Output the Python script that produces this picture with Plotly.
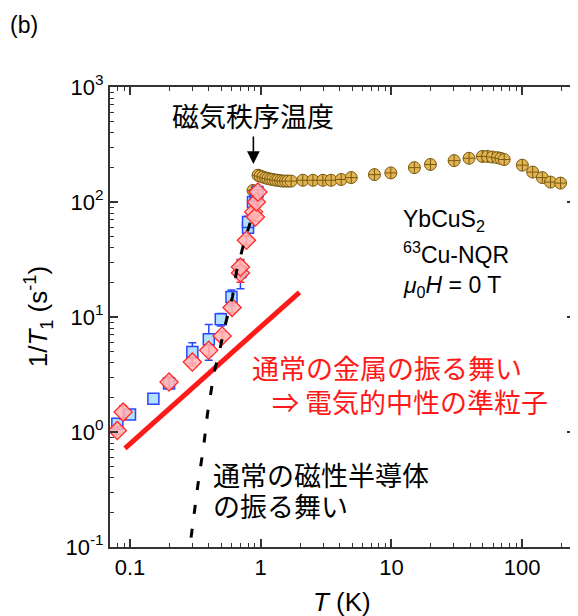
import plotly.graph_objects as go

# ---------------- data ----------------
gold_T = [0.873, 0.954, 0.99, 1.04, 1.09, 1.137, 1.19, 1.24, 1.30, 1.355, 1.42, 1.48, 1.55, 1.62, 1.71,
          2.10, 2.51, 2.99, 3.46, 4.13, 4.93, 7.42, 9.9, 15.0, 19.9, 30.2, 39.3, 49.7, 54.3,
          59.3, 64.9, 68.9, 73.0, 100.5, 120.5, 143, 165, 197]
gold_y = [126, 171, 168, 165, 162, 160, 158, 157, 155, 154.5, 153, 152, 152, 152, 152,
          154.5, 154.5, 154.5, 154.5, 157, 163, 173, 179, 199, 212, 229, 240, 249, 249,
          246, 243, 239, 234, 209, 182, 163, 149, 146]

blue_T = [0.080, 0.100, 0.151, 0.199, 0.300, 0.401, 0.495, 0.598, 0.700, 0.800, 0.800, 0.873, 0.916, 0.944]
blue_y = [1.18, 1.42, 1.95, 2.64, 4.96, 6.4, 9.55, 14.9, 24.6, 59.8, 67, 100, 114, 122]
blue_err = [0.12, 0.1, 0.1, 0.25, 1.0, 2.2, 1.2, 2.3, 7, 10, 8, 8, 8, 8]

red_T = [0.080, 0.0886, 0.199, 0.300, 0.400, 0.507, 0.604, 0.700, 0.700, 0.778, 0.884, 0.911, 0.927, 0.953]
red_y = [1.03, 1.49, 2.72, 4.06, 5.13, 6.84, 12.1, 24.1, 27.2, 46.5, 82, 74, 100, 122]
red_err = [0.08, 0.2, 0.3, 0.3, 0.5, 0.6, 1.2, 4, 4, 4, 6, 6, 6, 6]

# activated (semiconductor-like) guide
dash_T = [0.275, 0.287, 0.33, 0.367, 0.392, 0.44, 0.486, 0.522, 0.608, 0.652, 0.742, 0.864]
dash_y = [0.075, 0.1, 0.34, 0.77, 1.45, 3.3, 5.13, 7.65, 14.9, 24.6, 43.3, 76.5]

# Korringa (metal-like) guide
korr_T = [0.0915, 1.98]
korr_y = [0.72, 16.4]

x_tickvals = [0.1, 1, 10, 100]
x_ticktext = ["0.1", "1", "10", "100"]
y_tickvals = [0.1, 1, 10, 100, 1000]
y_ticktext = ["10<sup>-1</sup>", "10<sup>0</sup>", "10<sup>1</sup>", "10<sup>2</sup>", "10<sup>3</sup>"]

# ---------------- figure ----------------
# the page body adds an 8px offset, so the figure is drawn 8px smaller / shifted
OFF = 8
W, H = 578 - OFF, 616 - OFF
PL, PR, PT, PB = 110, 577, 87, 547          # plot box in screenshot pixels
L, R, T, B = PL - OFF, (W + OFF) - PR, PT - OFF, (H + OFF) - PB
PW, PH = PR - PL, PB - PT

def pp(x, y):
    return dict(x=(x - PL) / PW, y=(PB - y) / PH, xref="paper", yref="paper")

FONT = "Arial, Liberation Sans, sans-serif"
CJK = "Noto Sans CJK JP, sans-serif"

fig = go.Figure()

fig.add_trace(go.Scatter(
    x=gold_T, y=gold_y, mode="markers",
    marker=dict(symbol="circle-cross", size=12, color="#E2B452",
                line=dict(color="#7A5A12", width=1)),
    showlegend=False))

fig.add_trace(go.Scatter(
    x=blue_T, y=blue_y, mode="markers",
    error_y=dict(type="data", array=blue_err, color="#2A45FF", thickness=1.5, width=4),
    marker=dict(symbol="square", size=11, color="#B2E2FF",
                line=dict(color="#2A45FF", width=1.5)),
    showlegend=False))

fig.add_trace(go.Scatter(
    x=red_T, y=red_y, mode="markers",
    error_y=dict(type="data", array=red_err, color="#FF2A2A", thickness=1.5, width=4),
    marker=dict(symbol="diamond", size=14, color="rgba(255,180,180,0.85)",
                line=dict(color="#FF2A2A", width=1.3)),
    showlegend=False))

fig.add_trace(go.Scatter(
    x=korr_T, y=korr_y, mode="lines",
    line=dict(color="#FF1A1A", width=5), showlegend=False))

fig.add_trace(go.Scatter(
    x=dash_T, y=dash_y, mode="lines",
    line=dict(color="black", width=3, dash="9px,15px"), showlegend=False))

def minor(decs):
    out = []
    for d in decs:
        for m in range(2, 10):
            out.append(m * 10 ** d)
    return out

axis_common = dict(
    type="log", showline=True, linecolor="#333333", linewidth=2, mirror="ticks",
    ticks="inside", ticklen=8, tickwidth=1.5, tickcolor="#333333",
    showgrid=False, zeroline=False,
    tickfont=dict(family=FONT, size=22, color="black"),
)

fig.update_xaxes(**axis_common, range=[-1.153, 2.405],
                 tickvals=x_tickvals, ticktext=x_ticktext,
                 minor=dict(ticks="inside", ticklen=4, tickwidth=1.2, tickcolor="#333333",
                            tickvals=minor([-2, -1, 0, 1, 2]), showgrid=False))
fig.update_yaxes(**axis_common, range=[-1, 3],
                 tickvals=y_tickvals, ticktext=y_ticktext,
                 minor=dict(ticks="inside", ticklen=4, tickwidth=1.2, tickcolor="#333333",
                            tickvals=minor([-1, 0, 1, 2]), showgrid=False))

ann = []
ann.append(dict(**pp(8, 25), text="(b)", showarrow=False, xanchor="left", yanchor="middle",
                font=dict(family=FONT, size=23, color="black")))
ann.append(dict(**pp(38, 317), text="1/<i>T</i><sub>1</sub> (s<sup>-1</sup>)", textangle=-90,
                showarrow=False, xanchor="center", yanchor="middle",
                font=dict(family=FONT, size=26, color="black")))
ann.append(dict(**pp(343, 602), text="<i>T</i> (K)", showarrow=False,
                xanchor="center", yanchor="middle",
                font=dict(family=FONT, size=26, color="black")))
ann.append(dict(**pp(254, 115), text="磁気秩序温度", showarrow=False,
                xanchor="center", yanchor="middle",
                font=dict(family=CJK, size=27, color="black")))
ann.append(dict(**pp(254, 164), text="", showarrow=True, ax=0, ay=-29,
                arrowhead=2, arrowsize=1.6, arrowwidth=1.6, arrowcolor="black", standoff=0))
ann.append(dict(**pp(402, 220), text="YbCuS<sub>2</sub>", showarrow=False,
                xanchor="left", yanchor="middle",
                font=dict(family=FONT, size=23, color="black")))
ann.append(dict(**pp(402, 253), text="<sup>63</sup>Cu-NQR", showarrow=False,
                xanchor="left", yanchor="middle",
                font=dict(family=FONT, size=23, color="black")))
ann.append(dict(**pp(402, 286), text="<i>μ</i><sub>0</sub><i>H</i> = 0 T", showarrow=False,
                xanchor="left", yanchor="middle",
                font=dict(family=FONT, size=23, color="black")))
ann.append(dict(**pp(251, 367), text="通常の金属の振る舞い", showarrow=False,
                xanchor="left", yanchor="middle",
                font=dict(family=CJK, size=27, color="#FF1A1A")))
ann.append(dict(**pp(271, 402), text="⇒ 電気的中性の準粒子", showarrow=False,
                xanchor="left", yanchor="middle",
                font=dict(family=CJK, size=27, color="#FF1A1A")))
ann.append(dict(**pp(211, 474), text="通常の磁性半導体", showarrow=False,
                xanchor="left", yanchor="middle",
                font=dict(family=CJK, size=27, color="black")))
ann.append(dict(**pp(211, 505), text="の振る舞い", showarrow=False,
                xanchor="left", yanchor="middle",
                font=dict(family=CJK, size=27, color="black")))

fig.update_layout(
    width=W, height=H,
    margin=dict(l=L, r=R, t=T, b=B, pad=0),
    paper_bgcolor="white", plot_bgcolor="white",
    annotations=ann,
    font=dict(family=FONT, color="black"),
)

fig.write_html("out.html")
